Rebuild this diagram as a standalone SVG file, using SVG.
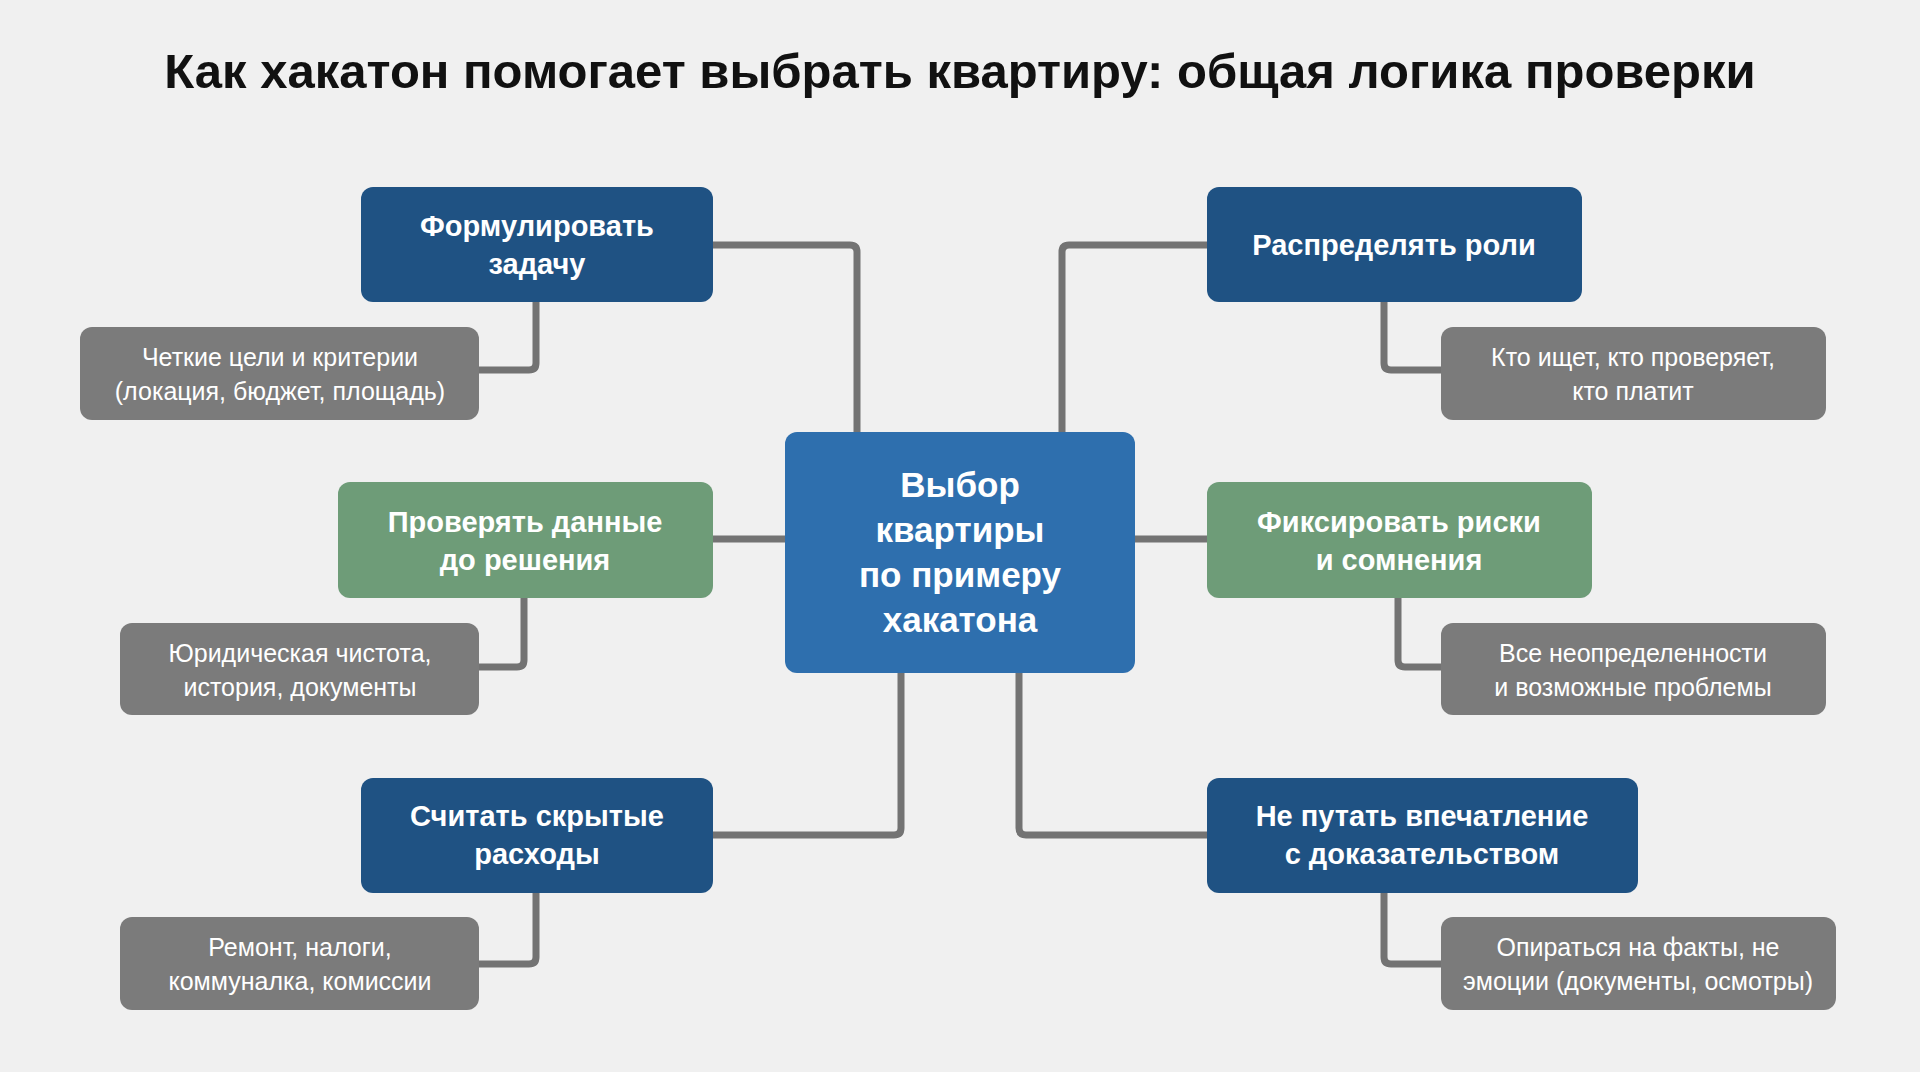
<svg xmlns="http://www.w3.org/2000/svg" width="1920" height="1072" viewBox="0 0 1920 1072">
<style>
.t{font-family:"Liberation Sans",Arial,sans-serif;fill:#fff;text-anchor:middle}
.h{font-weight:bold;font-size:29px}
.s{font-size:25px}
.c{stroke:#737373;stroke-width:7;fill:none;stroke-linejoin:round}
.dk{fill:#1f5283}.gr{fill:#6e9c78}.gy{fill:#7b7b7b}
</style>
<rect width="1920" height="1072" fill="#f0f0f0"/>
<text x="960" y="88" font-family="Liberation Sans,Arial,sans-serif" font-weight="bold" font-size="49" text-anchor="middle" fill="#111">Как хакатон помогает выбрать квартиру: общая логика проверки</text>
<g id="connectors">
<path class="c" d="M713 245 H850 Q857 245 857 252 V432"/>
<path class="c" d="M1207 245 H1069 Q1062 245 1062 252 V432"/>
<path class="c" d="M713 539 H785"/><path class="c" d="M1135 539 H1207"/>
<path class="c" d="M901 673 V828 Q901 835 894 835 H713"/>
<path class="c" d="M1019 673 V828 Q1019 835 1026 835 H1207"/>
<path class="c" d="M536 302 V363 Q536 370 529 370 H479"/>
<path class="c" d="M524 598 V660 Q524 667 517 667 H479"/>
<path class="c" d="M536 893 V957 Q536 964 529 964 H479"/>
<path class="c" d="M1384 302 V363 Q1384 370 1391 370 H1441"/>
<path class="c" d="M1398 598 V660 Q1398 667 1405 667 H1441"/>
<path class="c" d="M1384 893 V957 Q1384 964 1391 964 H1441"/>
</g>
<g id="center"><rect x="785" y="432" width="350" height="241" rx="12" fill="#2e6fae"/>
<text class="t" font-weight="bold" font-size="35"><tspan x="960" y="497">Выбор</tspan><tspan x="960" y="542">квартиры</tspan><tspan x="960" y="587">по примеру</tspan><tspan x="960" y="632">хакатона</tspan></text></g>
<g id="n1"><rect class="dk" x="361" y="187" width="352" height="115" rx="12"/><text class="t h"><tspan x="537" y="236">Формулировать</tspan><tspan x="537" y="274">задачу</tspan></text></g>
<g id="n1s"><rect class="gy" x="80" y="327" width="399" height="93" rx="12"/><text class="t s"><tspan x="280" y="366">Четкие цели и критерии</tspan><tspan x="280" y="400">(локация, бюджет, площадь)</tspan></text></g>
<g id="n2"><rect class="gr" x="338" y="482" width="375" height="116" rx="12"/><text class="t h"><tspan x="525" y="532">Проверять данные</tspan><tspan x="525" y="570">до решения</tspan></text></g>
<g id="n2s"><rect class="gy" x="120" y="623" width="359" height="92" rx="12"/><text class="t s"><tspan x="300" y="662">Юридическая чистота,</tspan><tspan x="300" y="696">история, документы</tspan></text></g>
<g id="n3"><rect class="dk" x="361" y="778" width="352" height="115" rx="12"/><text class="t h"><tspan x="537" y="826">Считать скрытые</tspan><tspan x="537" y="864">расходы</tspan></text></g>
<g id="n3s"><rect class="gy" x="120" y="917" width="359" height="93" rx="12"/><text class="t s"><tspan x="300" y="956">Ремонт, налоги,</tspan><tspan x="300" y="990">коммуналка, комиссии</tspan></text></g>
<g id="n4"><rect class="dk" x="1207" y="187" width="375" height="115" rx="12"/><text class="t h"><tspan x="1394" y="255">Распределять роли</tspan></text></g>
<g id="n4s"><rect class="gy" x="1441" y="327" width="385" height="93" rx="12"/><text class="t s"><tspan x="1633" y="366">Кто ищет, кто проверяет,</tspan><tspan x="1633" y="400">кто платит</tspan></text></g>
<g id="n5"><rect class="gr" x="1207" y="482" width="385" height="116" rx="12"/><text class="t h"><tspan x="1399" y="532">Фиксировать риски</tspan><tspan x="1399" y="570">и сомнения</tspan></text></g>
<g id="n5s"><rect class="gy" x="1441" y="623" width="385" height="92" rx="12"/><text class="t s"><tspan x="1633" y="662">Все неопределенности</tspan><tspan x="1633" y="696">и возможные проблемы</tspan></text></g>
<g id="n6"><rect class="dk" x="1207" y="778" width="431" height="115" rx="12"/><text class="t h"><tspan x="1422" y="826">Не путать впечатление</tspan><tspan x="1422" y="864">с доказательством</tspan></text></g>
<g id="n6s"><rect class="gy" x="1441" y="917" width="395" height="93" rx="12"/><text class="t s"><tspan x="1638" y="956">Опираться на факты, не</tspan><tspan x="1638" y="990">эмоции (документы, осмотры)</tspan></text></g>
</svg>
